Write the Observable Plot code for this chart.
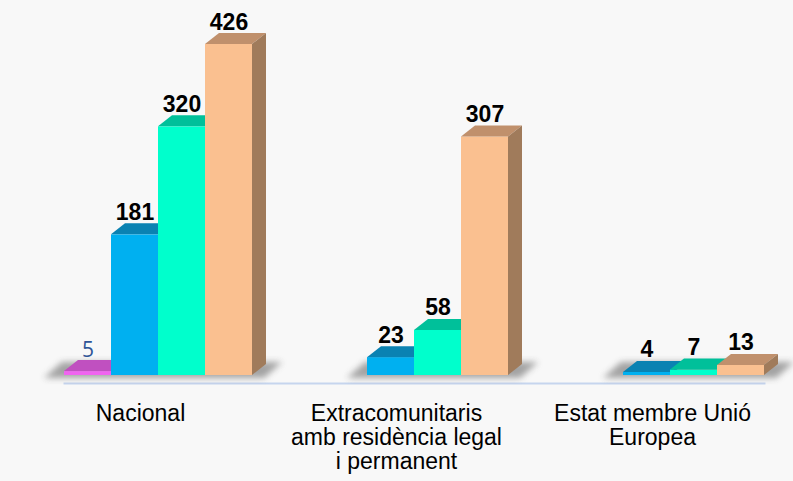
<!DOCTYPE html>
<html><head><meta charset="utf-8">
<script src="https://cdn.jsdelivr.net/npm/d3@7"></script>
<script src="https://cdn.jsdelivr.net/npm/@observablehq/plot@0.6"></script>
<style>
html,body{margin:0;padding:0;background:#f8f8f8;}
</style></head><body><div id="chart"></div>
<script>
// ---- data ----
const groups = ["Nacional", "Extracomunitaris amb residència legal i permanent", "Estat membre Unió Europea"];
const groupLabels = ["Nacional", "Extracomunitaris\namb residència legal\ni permanent", "Estat membre Unió\nEuropea"];
const series = ["Sèrie 1", "Sèrie 2", "Sèrie 3", "Sèrie 4"];
const valuesNacional = [5, 181, 320, 426];
const valuesExtracomunitaris = [null, 23, 58, 307];
const valuesEstatUE = [null, 4, 7, 13];

// ---- styles ----
const frontColors = ["#f064f0", "#00b0f0", "#00ffcc", "#fac090"];
const topColors = ["#c050c0", "#0a82b2", "#00c09a", "#c0906c"];
const sideColors = ["#a040a0", "#06709a", "#00a080", "#a07b5b"];
const DX = 14, DY = 11;

const rows = [valuesNacional, valuesExtracomunitaris, valuesEstatUE];
const data = groups.flatMap((g, gi) =>
  series.map((s, si) => ({group: g, series: s, si, value: rows[gi][si]}))
).filter(d => d.value != null);

function bar3d(index, scales, values, dimensions, context) {
  const xs = scales.x;
  const bw = (xs && xs.bandwidth) ? xs.bandwidth() : scales.scales.x.bandwidth;
  const g = d3.create("svg:g");
  const idx = Array.from(index).filter(i => isFinite(values.y2[i]));
  if (!idx.length) return g.node();
  const defs = g.append("defs");
  defs.append("filter").attr("id", "floorBlur").attr("x", "-20%").attr("y", "-100%").attr("width", "140%").attr("height", "300%")
    .append("feGaussianBlur").attr("stdDeviation", 3);
  const x0 = d3.min(idx, i => values.x[i]);
  const x1 = d3.max(idx, i => values.x[i] + bw);
  const yb = values.y1[idx[0]];
  g.append("polygon")
    .attr("points", [[x0 - 20, yb + 3], [x1 + 12, yb + 3], [x1 + DX + 16, yb - DY - 2], [x0 - 2, yb - DY - 2]].map(p => p.join(",")).join(" "))
    .attr("fill", "#6a6a6a").attr("opacity", 0.6).attr("filter", "url(#floorBlur)");
  for (const i of idx) {
    const d = data[i];
    const L = values.x[i], R = L + bw, T = Math.min(values.y1[i], values.y2[i]), B = Math.max(values.y1[i], values.y2[i]);
    g.append("rect").attr("x", L).attr("y", T).attr("width", bw).attr("height", B - T).attr("fill", frontColors[d.si]);
    g.append("polygon").attr("points", [[L, T], [L + DX, T - DY], [R + DX, T - DY], [R, T]].map(p => p.join(",")).join(" "))
      .attr("fill", topColors[d.si]);
    g.append("polygon").attr("points", [[R, T], [R + DX, T - DY], [R + DX, B - DY], [R, B]].map(p => p.join(",")).join(" "))
      .attr("fill", sideColors[d.si]);
  }
  return g.node();
}

const chart = Plot.plot({
  width: 793, height: 481,
  marginLeft: 16, marginRight: 12, marginTop: 44, marginBottom: 106,
  style: {background: "#f8f8f8", fontFamily: "'Liberation Sans', Arial, sans-serif"},
  fx: {domain: groups, paddingInner: 0.267, paddingOuter: 0.1247, align: 0.73, label: null},
  x: {domain: series, padding: 0, axis: null},
  y: {domain: [0, d3.max(data, d => d.value)], axis: null},
  marks: [
    Plot.frame({anchor: "bottom", facet: "super", stroke: "#c6d5ee", strokeWidth: 2, strokeOpacity: 1, dy: 8}),
    Plot.barY(data, {fx: "group", x: "series", y: "value", render: bar3d}),
    Plot.text(data, {filter: d => d.si > 0, fx: "group", x: "series", y: "value", text: d => String(d.value),
      fontWeight: "bold", fontSize: 23, fill: "#000", lineAnchor: "bottom", dy: -15}),
    Plot.text(data, {filter: d => d.si === 0, fx: "group", x: "series", y: "value", text: d => String(d.value),
      fontSize: 21, fill: "#2f5597", lineAnchor: "bottom", dy: -15, fontFamily: "'Open Sans', sans-serif"}),
    Plot.axisFx({anchor: "bottom", tickSize: 0, tickPadding: 29, fontSize: 23, lineHeight: 1.03, dx: -18, label: null,
      fill: "#000", tickFormat: g => groupLabels[groups.indexOf(g)]})
  ]
});
document.getElementById("chart").append(chart);
</script>
</body></html>
